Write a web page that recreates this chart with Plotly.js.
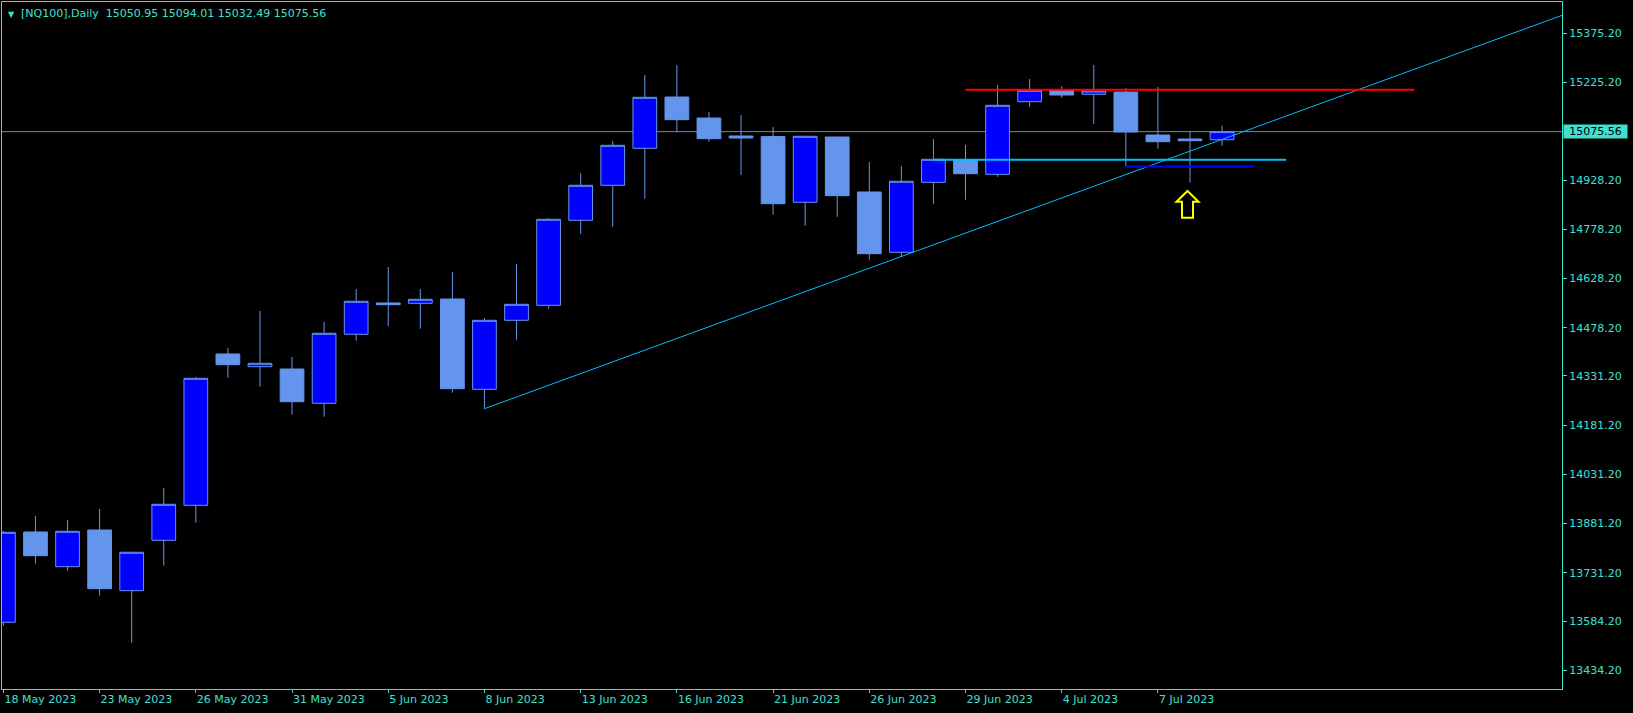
<!DOCTYPE html>
<html>
<head>
<meta charset="utf-8">
<script src="https://cdn.plot.ly/plotly-3.0.1.min.js"></script>
<style>
  html, body { margin: 0; padding: 0; background: #000; }
  #chart { width: 1633px; height: 713px; }
</style>
</head>
<body>
<div id="chart"></div>
<script>
// ---- Data ----
const barDates = ['18 May 2023','19 May 2023','22 May 2023','23 May 2023','24 May 2023','25 May 2023','26 May 2023',
  '29 May 2023','30 May 2023','31 May 2023','1 Jun 2023','2 Jun 2023','5 Jun 2023','6 Jun 2023','7 Jun 2023',
  '8 Jun 2023','9 Jun 2023','12 Jun 2023','13 Jun 2023','14 Jun 2023','15 Jun 2023','16 Jun 2023','19 Jun 2023',
  '20 Jun 2023','21 Jun 2023','22 Jun 2023','23 Jun 2023','26 Jun 2023','27 Jun 2023','28 Jun 2023','29 Jun 2023',
  '30 Jun 2023','3 Jul 2023','4 Jul 2023','5 Jul 2023','6 Jul 2023','7 Jul 2023','10 Jul 2023','11 Jul 2023'];

const openPrices = [13580.6, 13855.7, 13750.0, 13861.8, 13676.9, 13830.4, 13937.1, 14398.1, 14359.4, 14352.3,
  14247.8, 14458.1, 14553.5, 14552.5, 14565.6, 14290.5, 14500.7, 14546.4, 14805.4, 14912.1,
  15024.8, 15181.1, 15117.1, 15062.3, 15060.5, 14860.3, 15059.2, 14891.7, 14707.9, 14921.2,
  14988.2, 14945.6, 15166.8, 15202.4, 15189.3, 15196.3, 15065.3, 15053.1, 15050.95];
const highPrices = [13858.8, 13904.5, 13892.3, 13925.8, 13795.5, 13989.8, 14328.0, 14416.3, 14529.1, 14388.9,
  14495.6, 14596.1, 14663.1, 14596.1, 14647.9, 14507.7, 14672.3, 14811.5, 14949.5, 15047.0,
  15248.1, 15278.6, 15135.4, 15126.3, 15089.7, 15063.0, 15060.5, 14983.1, 14970.9, 15053.1,
  15034.9, 15217.7, 15236.0, 15214.6, 15278.6, 15208.5, 15211.6, 15077.5, 15094.01];
const lowPrices = [13570.2, 13759.1, 13737.8, 13661.6, 13518.4, 13753.0, 13884.0, 14325.8, 14298.4, 14213.1,
  14207.0, 14438.6, 14483.4, 14475.1, 14280.1, 14231.4, 14441.6, 14536.1, 14764.6, 14785.9,
  14871.2, 15073.6, 15044.9, 14943.5, 14822.5, 14789.0, 14816.4, 14685.4, 14694.5, 14856.0,
  14868.2, 14938.3, 15151.6, 15179.0, 15098.8, 14970.9, 15023.6, 14920.0, 15032.49];
const closePrices = [13854.8, 13783.5, 13857.8, 13683.0, 13793.9, 13940.1, 14324.0, 14365.5, 14369.7, 14252.7,
  14461.1, 14558.6, 14548.3, 14564.7, 14292.3, 14500.7, 14549.5, 14808.5, 14912.1, 15033.9,
  15180.2, 15112.0, 15054.1, 15056.2, 14856.0, 15061.4, 14880.4, 14703.7, 14924.3, 14991.3,
  14947.4, 15155.8, 15201.5, 15187.2, 15199.4, 15074.5, 15044.9, 15048.0, 15075.56];

const xTickLabels = ['18 May 2023','23 May 2023','26 May 2023','31 May 2023','5 Jun 2023','8 Jun 2023',
  '13 Jun 2023','16 Jun 2023','21 Jun 2023','26 Jun 2023','29 Jun 2023','4 Jul 2023','7 Jul 2023'];
const yTickValues = [15375.2, 15225.2, 14928.2, 14778.2, 14628.2, 14478.2, 14331.2, 14181.2,
  14031.2, 13881.2, 13731.2, 13584.2, 13434.2];

// drawn objects (bar index, price)
const trendLineX = [15, 49];
const trendLineY = [14231.4, 15444.2];
const resistanceX = [30, 44];   const resistanceY = [15203.4, 15203.4];
const supportX = [29, 40];      const supportY = [14990, 14990];
const lowLevelX = [35, 39];     const lowLevelY = [14969, 14969];
const arrowBar = 37;            const arrowPrice = 14894.7;
const lastPrice = 15075.56;
const headerText = '[NQ100],Daily\u00a0 15050.95 15094.01 15032.49 15075.56';

// ---- Chart ----
const TURQ = '#40E0D0';
const BULL = '#0000FF';
const BEAR = '#6495ED';
const FONT = 'DejaVu Sans, Verdana, sans-serif';
const idx = barDates.map((_, i) => i);
const xTickVals = xTickLabels.map(l => barDates.indexOf(l));

const traces = [
  {
    type: 'candlestick', x: idx, open: openPrices, high: highPrices, low: lowPrices, close: closePrices,
    increasing: { line: { color: BEAR, width: 1 }, fillcolor: BULL },
    decreasing: { line: { color: BEAR, width: 1 }, fillcolor: BEAR },
    whiskerwidth: 0, hoverinfo: 'skip', showlegend: false
  },
  { type: 'scatter', mode: 'lines', x: trendLineX, y: trendLineY, line: { color: '#00BFFF', width: 1 }, hoverinfo: 'skip' },
  { type: 'scatter', mode: 'lines', x: resistanceX, y: resistanceY, line: { color: '#FF0000', width: 2 }, hoverinfo: 'skip' },
  { type: 'scatter', mode: 'lines', x: supportX, y: supportY, line: { color: '#00BFFF', width: 2 }, hoverinfo: 'skip' },
  { type: 'scatter', mode: 'lines', x: lowLevelX, y: lowLevelY, line: { color: '#0000FF', width: 2 }, hoverinfo: 'skip' }
];

const axisCommon = {
  showgrid: false, zeroline: false, showline: true, linecolor: TURQ, linewidth: 1, mirror: true,
  ticks: 'outside', tickcolor: TURQ, tickwidth: 1,
  tickfont: { family: FONT, size: 11, color: TURQ }, fixedrange: true
};

// hollow block arrow icon (pixel offsets from its anchor, y up)
const arrowIconPath = 'M-2.5,0 L8.5,-10.7 L3,-10.7 L3,-26.7 L-8,-26.7 L-8,-10.7 L-13.5,-10.7 Z';

const layout = {
  width: 1633, height: 713,
  paper_bgcolor: '#000000', plot_bgcolor: '#000000',
  margin: { l: 2, r: 71, t: 2, b: 24 },
  showlegend: false,
  boxgap: 0.26, boxgroupgap: 0,
  xaxis: Object.assign({}, axisCommon, {
    type: 'linear', range: [-0.044, 48.6], tickmode: 'array',
    tickvals: xTickVals, ticktext: xTickLabels, ticklen: 3,
    ticklabelposition: 'outside right',
    rangeslider: { visible: false }
  }),
  yaxis: Object.assign({}, axisCommon, {
    side: 'right', range: [13377.3, 15470.6], tickmode: 'array',
    tickvals: yTickValues, ticktext: yTickValues.map(v => v.toFixed(2)), ticklen: 4
  }),
  shapes: [
    { type: 'line', xref: 'paper', x0: 0, x1: 1, yref: 'y', y0: lastPrice, y1: lastPrice,
      line: { color: '#778899', width: 1 }, layer: 'below' },
    { type: 'path', xref: 'x', yref: 'y', xsizemode: 'pixel', ysizemode: 'pixel',
      xanchor: arrowBar, yanchor: arrowPrice, path: arrowIconPath,
      line: { color: '#FFFF00', width: 2 }, fillcolor: 'rgba(0,0,0,0)' }
  ],
  annotations: [
    { xref: 'paper', x: 1, xanchor: 'left', xshift: 1, yref: 'y', y: lastPrice, yanchor: 'middle',
      text: lastPrice.toFixed(2), showarrow: false, bgcolor: TURQ, borderpad: 0, width: 63, height: 13,
      font: { family: FONT, size: 11, color: '#000000' } },
    { xref: 'paper', x: 0, xanchor: 'left', xshift: 4, yref: 'paper', y: 1, yanchor: 'top', yshift: -6,
      text: '\u25BC', showarrow: false, font: { family: FONT, size: 8, color: TURQ } },
    { xref: 'paper', x: 0, xanchor: 'left', xshift: 17, yref: 'paper', y: 1, yanchor: 'top', yshift: -3,
      text: headerText, showarrow: false, font: { family: FONT, size: 11, color: TURQ } }
  ]
};

Plotly.newPlot('chart', traces, layout, { staticPlot: true, displayModeBar: false });
</script>
</body>
</html>
